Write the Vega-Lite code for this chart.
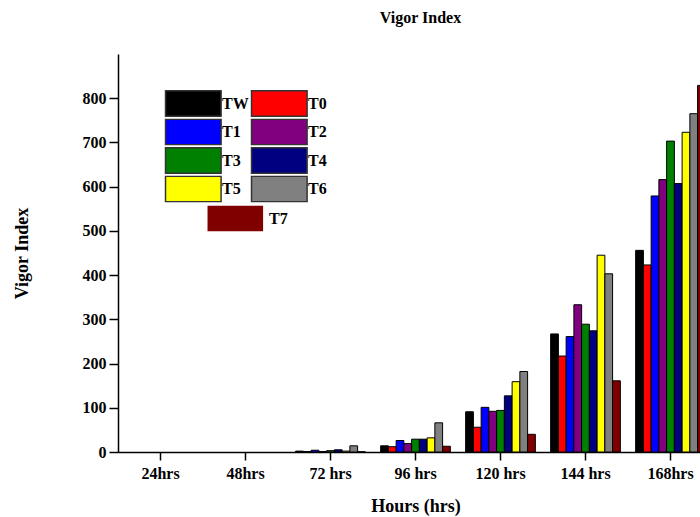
{
  "$schema": "https://vega.github.io/schema/vega-lite/v6.json",
  "width": 595,
  "height": 398,
  "autosize": {"type": "none"},
  "padding": {"left": 118, "top": 54, "right": 0, "bottom": 65},
  "background": "white",
  "title": {"text": "Vigor Index", "font": "Liberation Serif", "fontSize": 16, "fontWeight": "bold", "offset": 28, "dx": 5, "color": "black"},
  "config": {
    "view": {"stroke": null},
    "axis": {"grid": false, "domainColor": "black", "domainWidth": 1.5, "tickColor": "black", "tickWidth": 1.5, "labelFont": "Liberation Serif", "labelFontWeight": "bold", "labelColor": "black", "titleFont": "Liberation Serif", "titleFontWeight": "bold", "titleColor": "black"}
  },
  "data": {"values": [
    {"time": "24hrs", "treatment": "TW", "value": 0}, {"time": "24hrs", "treatment": "T0", "value": 0}, {"time": "24hrs", "treatment": "T1", "value": 0}, {"time": "24hrs", "treatment": "T2", "value": 0}, {"time": "24hrs", "treatment": "T3", "value": 0}, {"time": "24hrs", "treatment": "T4", "value": 0}, {"time": "24hrs", "treatment": "T5", "value": 0}, {"time": "24hrs", "treatment": "T6", "value": 0}, {"time": "24hrs", "treatment": "T7", "value": 0},
    {"time": "48hrs", "treatment": "TW", "value": 0}, {"time": "48hrs", "treatment": "T0", "value": 0}, {"time": "48hrs", "treatment": "T1", "value": 0}, {"time": "48hrs", "treatment": "T2", "value": 0}, {"time": "48hrs", "treatment": "T3", "value": 0}, {"time": "48hrs", "treatment": "T4", "value": 0}, {"time": "48hrs", "treatment": "T5", "value": 0}, {"time": "48hrs", "treatment": "T6", "value": 0}, {"time": "48hrs", "treatment": "T7", "value": 0},
    {"time": "72 hrs", "treatment": "TW", "value": 2}, {"time": "72 hrs", "treatment": "T0", "value": 1}, {"time": "72 hrs", "treatment": "T1", "value": 4}, {"time": "72 hrs", "treatment": "T2", "value": 1}, {"time": "72 hrs", "treatment": "T3", "value": 3}, {"time": "72 hrs", "treatment": "T4", "value": 5}, {"time": "72 hrs", "treatment": "T5", "value": 2}, {"time": "72 hrs", "treatment": "T6", "value": 14}, {"time": "72 hrs", "treatment": "T7", "value": 0.5},
    {"time": "96 hrs", "treatment": "TW", "value": 14}, {"time": "96 hrs", "treatment": "T0", "value": 12}, {"time": "96 hrs", "treatment": "T1", "value": 26}, {"time": "96 hrs", "treatment": "T2", "value": 19}, {"time": "96 hrs", "treatment": "T3", "value": 29}, {"time": "96 hrs", "treatment": "T4", "value": 29}, {"time": "96 hrs", "treatment": "T5", "value": 32}, {"time": "96 hrs", "treatment": "T6", "value": 66}, {"time": "96 hrs", "treatment": "T7", "value": 13}, 
    {"time": "120 hrs", "treatment": "TW", "value": 91}, {"time": "120 hrs", "treatment": "T0", "value": 56}, {"time": "120 hrs", "treatment": "T1", "value": 101}, {"time": "120 hrs", "treatment": "T2", "value": 92}, {"time": "120 hrs", "treatment": "T3", "value": 94}, {"time": "120 hrs", "treatment": "T4", "value": 127}, {"time": "120 hrs", "treatment": "T5", "value": 159}, {"time": "120 hrs", "treatment": "T6", "value": 182}, {"time": "120 hrs", "treatment": "T7", "value": 40},
    {"time": "144 hrs", "treatment": "TW", "value": 267}, {"time": "144 hrs", "treatment": "T0", "value": 217}, {"time": "144 hrs", "treatment": "T1", "value": 261}, {"time": "144 hrs", "treatment": "T2", "value": 333}, {"time": "144 hrs", "treatment": "T3", "value": 289}, {"time": "144 hrs", "treatment": "T4", "value": 274}, {"time": "144 hrs", "treatment": "T5", "value": 445}, {"time": "144 hrs", "treatment": "T6", "value": 403}, {"time": "144 hrs", "treatment": "T7", "value": 161},
    {"time": "168hrs", "treatment": "TW", "value": 456}, {"time": "168hrs", "treatment": "T0", "value": 423}, {"time": "168hrs", "treatment": "T1", "value": 579}, {"time": "168hrs", "treatment": "T2", "value": 616}, {"time": "168hrs", "treatment": "T3", "value": 703}, {"time": "168hrs", "treatment": "T4", "value": 607}, {"time": "168hrs", "treatment": "T5", "value": 723}, {"time": "168hrs", "treatment": "T6", "value": 765}, {"time": "168hrs", "treatment": "T7", "value": 829}
  ]},
  "layer": [
    {
      "mark": {"type": "bar", "stroke": "black", "strokeWidth": 1},
      "encoding": {
        "x": {"field": "time", "type": "nominal", "sort": ["24hrs", "48hrs", "72 hrs", "96 hrs", "120 hrs", "144 hrs", "168hrs"],
              "scale": {"paddingInner": 0.18, "paddingOuter": 0.09},
              "axis": {"title": "Hours (hrs)", "labelAngle": 0, "labelFontSize": 16, "tickSize": 8, "labelPadding": 5, "titleFontSize": 18, "titlePadding": 16}},
        "xOffset": {"field": "treatment", "type": "nominal", "sort": ["TW", "T0", "T1", "T2", "T3", "T4", "T5", "T6", "T7"], "scale": {"paddingInner": 0, "paddingOuter": 0}},
        "y": {"field": "value", "type": "quantitative", "scale": {"domain": [0, 900], "nice": false},
              "axis": {"title": "Vigor Index", "values": [0, 50, 100, 150, 200, 250, 300, 350, 400, 450, 500, 550, 600, 650, 700, 750, 800, 850],
                       "labelExpr": "datum.value % 100 === 0 ? datum.label : ''",
                       "tickSize": {"condition": {"test": "datum.value % 100 === 0", "value": 9}, "value": 5},
                       "labelFontSize": 16, "labelPadding": 3, "titleFontSize": 18, "titlePadding": 51}},
        "strokeOpacity": {"condition": {"test": "datum.value === 0", "value": 0}, "value": 1},
        "color": {"field": "treatment", "type": "nominal",
                  "scale": {"domain": ["TW", "T0", "T1", "T2", "T3", "T4", "T5", "T6", "T7"], "range": ["#000000", "#ff0000", "#0000ff", "#800080", "#008000", "#000080", "#ffff00", "#808080", "#800000"]},
                  "legend": {"orient": "none", "legendX": 46, "legendY": 36, "columns": 2, "direction": "horizontal", "title": null,
                             "values": ["TW", "T0", "T1", "T2", "T3", "T4", "T5", "T6"],
                             "symbolType": "M-0.94,-1H3.42V1H-0.94Z", "symbolSize": 650, "symbolStrokeColor": "#333333", "symbolStrokeWidth": 1.5, "symbolOpacity": 1,
                             "labelFont": "Liberation Serif", "labelFontSize": 16, "labelFontWeight": "bold", "labelColor": "black",
                             "labelOffset": 31, "clipHeight": 27, "rowPadding": 1.5, "columnPadding": 1, "padding": 0,
                             "encode": {"symbols": {"update": {"strokeOpacity": {"value": 1}, "opacity": {"value": 1}}}}}}
      }
    },
    {
      "transform": [{"filter": "datum.treatment === 'T7'"}],
      "mark": {"type": "point", "opacity": 0, "filled": true, "color": "#800000"},
      "encoding": {
        "x": {"field": "time", "type": "nominal", "sort": ["24hrs", "48hrs", "72 hrs", "96 hrs", "120 hrs", "144 hrs", "168hrs"]},
        "xOffset": {"field": "treatment", "type": "nominal", "sort": ["TW", "T0", "T1", "T2", "T3", "T4", "T5", "T6", "T7"]},
        "y": {"field": "value", "type": "quantitative"},
        "shape": {"field": "treatment", "type": "nominal",
                  "scale": {"domain": ["T7"], "range": ["M-0.94,-1H3.42V1H-0.94Z"]},
                  "legend": {"orient": "none", "legendX": 88, "legendY": 151, "title": null,
                             "symbolSize": 650, "symbolFillColor": "#800000", "symbolStrokeColor": "#333333", "symbolStrokeWidth": 1.5, "symbolOpacity": 1,
                             "labelFont": "Liberation Serif", "labelFontSize": 16, "labelFontWeight": "bold", "labelColor": "black",
                             "labelOffset": 36, "padding": 0,
                             "encode": {"symbols": {"update": {"opacity": {"value": 1}, "fill": {"value": "#800000"}, "stroke": {"value": "#333333"}}}}}}
      }
    }
  ]
}
